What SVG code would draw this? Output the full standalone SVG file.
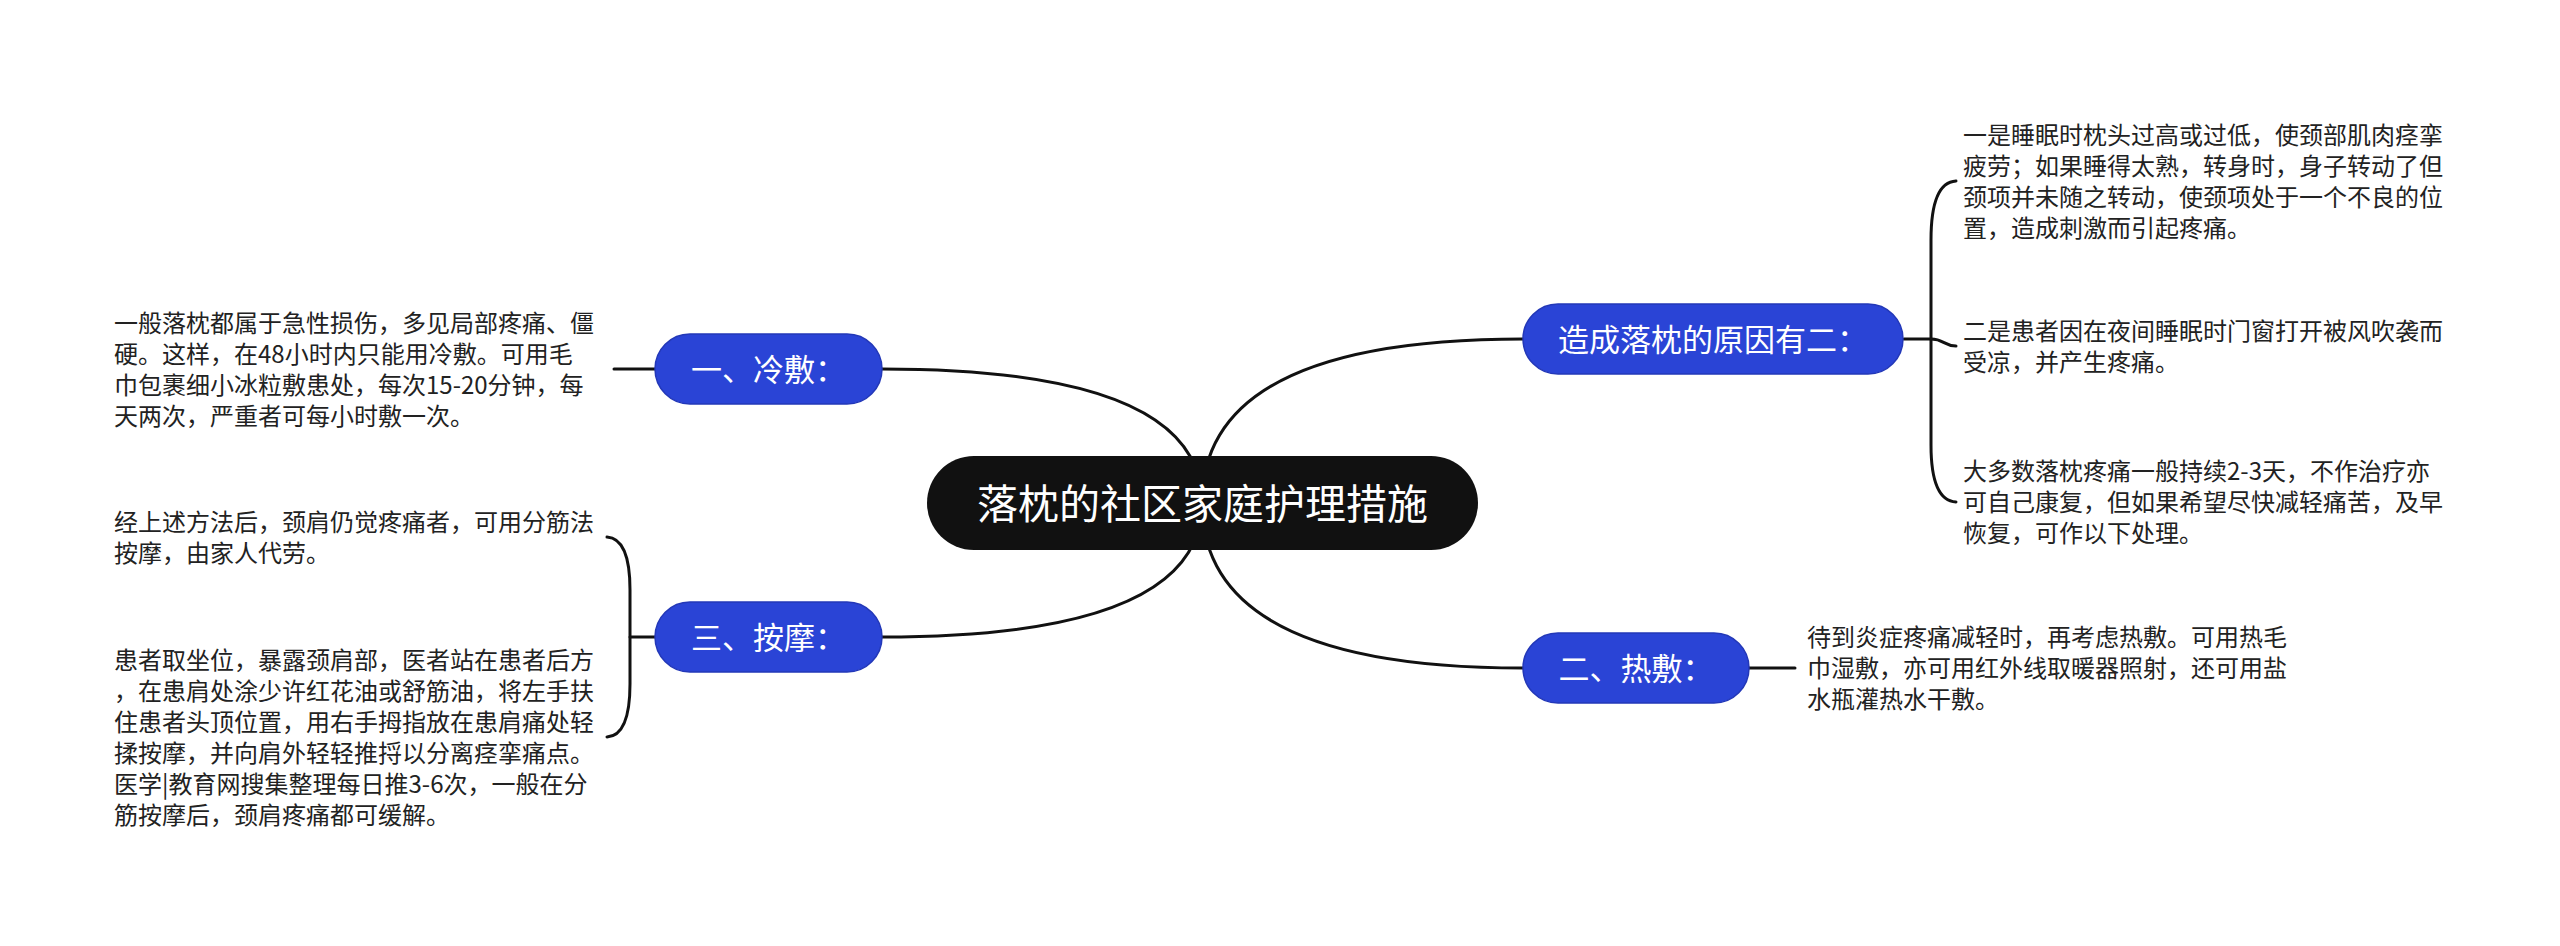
<svg xmlns="http://www.w3.org/2000/svg" width="2560" height="946" viewBox="0 0 2560 946">
<style>
.bg{fill:#ffffff}
.conn{fill:none;stroke:#111111;stroke-width:3;stroke-linecap:round;stroke-linejoin:round}
.root{fill:#111111}
.branch{fill:#2a44d6;stroke:#2338b8;stroke-width:1.5}
.rt{font-family:"Noto Sans CJK SC","Noto Sans",sans-serif;font-size:41px;fill:#ffffff;text-anchor:middle}
.bt{font-family:"Noto Sans CJK SC","Noto Sans",sans-serif;font-size:31px;fill:#ffffff;text-anchor:middle}
.lt{font-family:"Noto Sans CJK SC","Noto Sans",sans-serif;font-size:24px;fill:#222222}
</style>
<rect class="bg" x="0" y="0" width="2560" height="946"/>
<g id="connectors">
<path class="conn" d="M1202,503 Q1202,339 1523,339"/>
<path class="conn" d="M1202,503 Q1202,668 1523,668"/>
<path class="conn" d="M1202,503 Q1202,369 882,369"/>
<path class="conn" d="M1202,503 Q1202,637 882,637"/>
<path class="conn" d="M1904,339 L1931,339"/>
<path class="conn" d="M1956,181 C1938,182 1931,205 1931,240 L1931,445 C1931,480 1938,501 1956,502"/>
<path class="conn" d="M1931,339 C1944,339 1944,346 1956,346"/>
<path class="conn" d="M1749,668 L1795,668"/>
<path class="conn" d="M655,369 L614,369"/>
<path class="conn" d="M655,637 L630,637"/>
<path class="conn" d="M607,537 C623,538 630,558 630,590 L630,684 C630,716 623,736 607,737"/>
</g>
<g id="root">
<rect class="root" x="927" y="456" width="551" height="94" rx="47" ry="47"/>
<text class="rt" x="1202.5" y="519">落枕的社区家庭护理措施</text>
</g>
<g id="node-cause">
<rect class="branch" x="1523" y="304" width="380" height="70" rx="35" ry="35"/>
<text class="bt" x="1713" y="351">造成落枕的原因有二：</text>
</g>
<g id="node-hot">
<rect class="branch" x="1523" y="633" width="226" height="70" rx="35" ry="35"/>
<text class="bt" x="1636" y="680">二、热敷：</text>
</g>
<g id="node-cold">
<rect class="branch" x="655" y="334" width="227" height="70" rx="35" ry="35"/>
<text class="bt" x="768.5" y="381">一、冷敷：</text>
</g>
<g id="node-massage">
<rect class="branch" x="655" y="602" width="227" height="70" rx="35" ry="35"/>
<text class="bt" x="768.5" y="649">三、按摩：</text>
</g>
<g id="cause-1">
<text class="lt" x="1963" y="143.5">一是睡眠时枕头过高或过低，使颈部肌肉痉挛</text>
<text class="lt" x="1963" y="174.5">疲劳；如果睡得太熟，转身时，身子转动了但</text>
<text class="lt" x="1963" y="205.5">颈项并未随之转动，使颈项处于一个不良的位</text>
<text class="lt" x="1963" y="236.5">置，造成刺激而引起疼痛。</text>
</g>
<g id="cause-2">
<text class="lt" x="1963" y="339.5">二是患者因在夜间睡眠时门窗打开被风吹袭而</text>
<text class="lt" x="1963" y="370.5">受凉，并产生疼痛。</text>
</g>
<g id="cause-3">
<text class="lt" x="1963" y="480">大多数落枕疼痛一般持续2-3天，不作治疗亦</text>
<text class="lt" x="1963" y="511">可自己康复，但如果希望尽快减轻痛苦，及早</text>
<text class="lt" x="1963" y="542">恢复，可作以下处理。</text>
</g>
<g id="hot-text">
<text class="lt" x="1807" y="646">待到炎症疼痛减轻时，再考虑热敷。可用热毛</text>
<text class="lt" x="1807" y="677">巾湿敷，亦可用红外线取暖器照射，还可用盐</text>
<text class="lt" x="1807" y="708">水瓶灌热水干敷。</text>
</g>
<g id="cold-text">
<text class="lt" x="114" y="331.5">一般落枕都属于急性损伤，多见局部疼痛、僵</text>
<text class="lt" x="114" y="362.5">硬。这样，在48小时内只能用冷敷。可用毛</text>
<text class="lt" x="114" y="393.5">巾包裹细小冰粒敷患处，每次15-20分钟，每</text>
<text class="lt" x="114" y="424.5">天两次，严重者可每小时敷一次。</text>
</g>
<g id="massage-1">
<text class="lt" x="114" y="530.5">经上述方法后，颈肩仍觉疼痛者，可用分筋法</text>
<text class="lt" x="114" y="561.5">按摩，由家人代劳。</text>
</g>
<g id="massage-2">
<text class="lt" x="114" y="669">患者取坐位，暴露颈肩部，医者站在患者后方</text>
<text class="lt" x="114" y="700">，在患肩处涂少许红花油或舒筋油，将左手扶</text>
<text class="lt" x="114" y="731">住患者头顶位置，用右手拇指放在患肩痛处轻</text>
<text class="lt" x="114" y="762">揉按摩，并向肩外轻轻推捋以分离痉挛痛点。</text>
<text class="lt" x="114" y="793">医学|教育网搜集整理每日推3-6次，一般在分</text>
<text class="lt" x="114" y="824">筋按摩后，颈肩疼痛都可缓解。</text>
</g>
</svg>
